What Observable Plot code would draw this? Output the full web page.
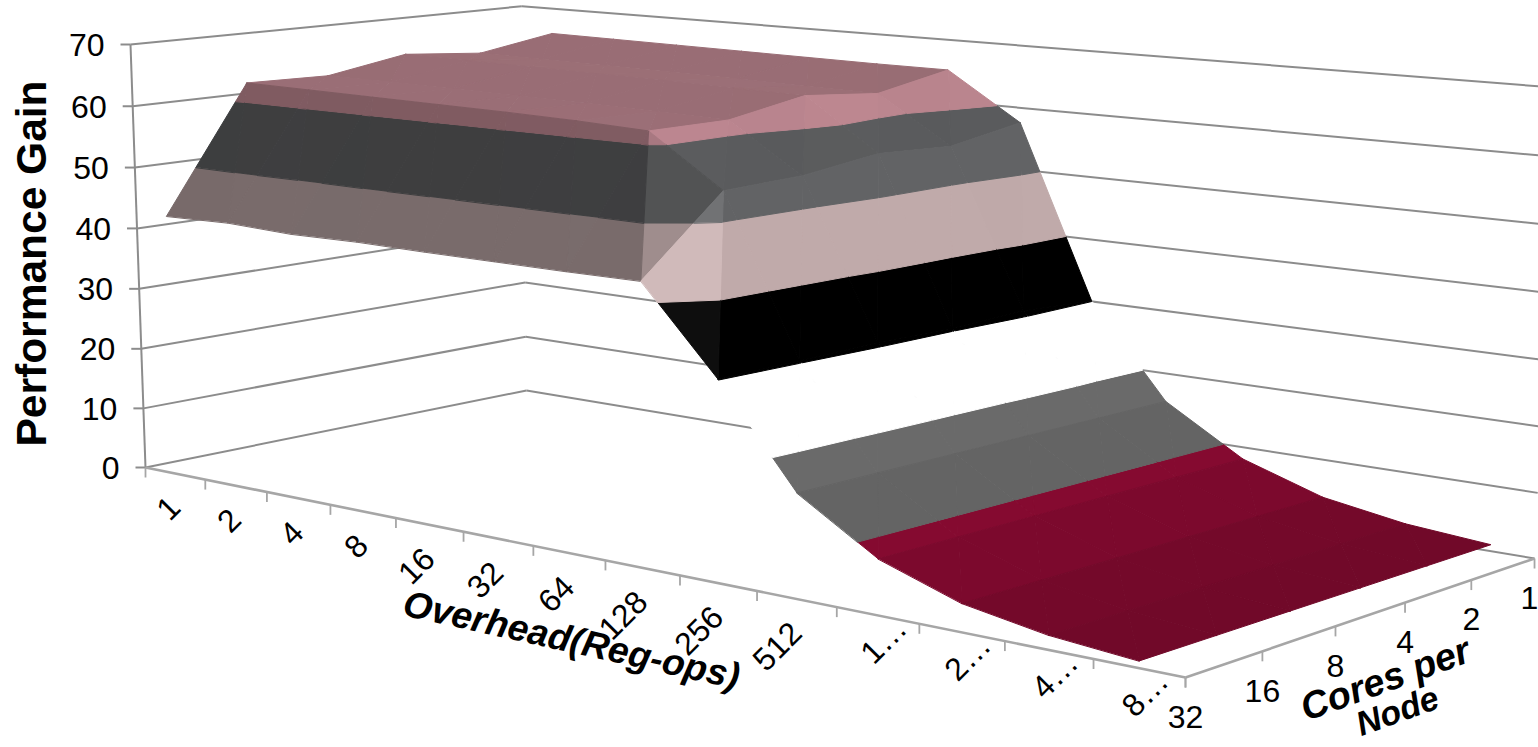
<!DOCTYPE html>
<html>
<head>
<meta charset="utf-8">
<title>Performance Gain surface</title>
<script src="https://cdn.jsdelivr.net/npm/d3@7"></script>
<script src="https://cdn.jsdelivr.net/npm/@observablehq/plot@0.6"></script>
<style>
  html, body { margin: 0; padding: 0; background: #fff; }
  svg { display: block; }
</style>
</head>
<body>
<div id="chart"></div>
<script>
// Categories
const overheadLabels = ["1","2","4","8","16","32","64","128","256","512","1…","2…","4…","8…"];
const coresLabels = ["32","16","8","4","2","1"];
const gainTicks = [0,10,20,30,40,50,60,70];

// Performance gain by overhead, one series per core count
const gainCores32 = [42.7,43.0,42.6,42.8,42.7,42.7,42.7,42.8,30.1,15.5,8.15,4.1,2.05,1.0];
const gainCores16 = [62.8,62.7,62.6,62.5,62.4,62.2,61.8,54.1,30.3,15.5,8.15,4.1,2.05,1.0];
const gainCores8  = [62.5,62.5,62.4,62.3,62.2,62.0,61.8,54.5,30.6,15.5,8.15,4.1,2.05,1.0];
const gainCores4  = [64.7,64.6,64.5,64.4,64.3,64.1,64.0,56.1,30.4,15.5,8.15,4.1,2.05,1.0];
const gainCores2  = [63.5,63.4,63.3,63.2,63.1,62.9,62.8,55.5,30.8,15.5,8.15,4.1,2.05,1.0];
const gainCores1  = [65.6,65.5,65.4,65.3,65.2,65.1,65.1,57.6,30.1,15.5,8.15,4.1,2.05,1.0];
const gainSeries = [gainCores32, gainCores16, gainCores8, gainCores4, gainCores2, gainCores1];

// One colour per 10-unit gain band, lowest first; null leaves a band unshaded white
const bandEdges = [0,10,20,30,40,50,60,70];
const bandColors = [[144,11,52],[108,108,108],null,[0,0,0],[192,170,170],[98,99,101],[203,145,155]];

const width = 1538, height = 747;
const nU = overheadLabels.length, nV = coresLabels.length;

// Perspective camera: u runs along overhead, v along cores, t is gain / 70
function project(u, v, gain) {
  const t = gain / 70;
  const X = 145 + 794.7 * u + 435.4 * v - 18.25 * t;
  const Y = 467 + 69.9 * u - 36.7 * v - 424.1 * t;
  const W = 1 - 0.207 * u + 0.1034 * v - 0.025 * t;
  return [X / W, Y / W];
}
const uOf = (i) => (i + 0.5) / nU;   // overhead categories sit between ticks
const vOf = (j) => j / (nV - 1);     // core counts sit on ticks

// Facet brightness from its slope along each axis; slight tilts barely register
function facetColor(base, su, sv) {
  if (!base) return "#ffffff";
  const softV = sv * Math.abs(sv) / (Math.abs(sv) + 5);
  const softU = su * Math.abs(su) / (Math.abs(su) + 0.5);
  const nx = -softU / 10, ny = -softV / 10 * 1.25, len = Math.hypot(nx, ny, 1);
  const a = nx / len, b = ny / len, c = 1 / len;
  const spec = Math.pow(Math.max(0, a * 0.64 - b * 0.576 + c * 0.505), 100);
  const f = 0.69 + 0.3067 * a + 0.105 * b + 0.07 * c + 0.2 * spec;
  const lift = 20 * spec;
  return d3.rgb(base[0] * f + lift, base[1] * f + lift, base[2] * f + lift).formatHex();
}

// Clip a polygon of [u, v, gain] points to one side of a gain level
function clip(poly, level, keepAbove) {
  const out = [];
  const inside = (p) => keepAbove ? p[2] >= level : p[2] <= level;
  poly.forEach((p, k) => {
    const q = poly[(k + 1) % poly.length];
    if (inside(p)) out.push(p);
    if (inside(p) !== inside(q)) {
      const s = (level - p[2]) / (q[2] - p[2]);
      out.push([p[0] + s * (q[0] - p[0]), p[1] + s * (q[1] - p[1]), level]);
    }
  });
  return out;
}

// Surface facets, far edge first, each triangle split into its gain bands
const facetRows = [];
let facetId = 0;
function addTriangle(tri, su, sv) {
  bandColors.forEach((base, b) => {
    let poly = clip(tri, bandEdges[b], true);
    if (poly.length) poly = clip(poly, bandEdges[b + 1], false);
    if (poly.length < 3) return;
    const fill = facetColor(base, su, sv);
    const id = facetId++;
    poly.forEach((p) => {
      const [x, y] = project(p[0], p[1], p[2]);
      facetRows.push({id, x, y, fill});
    });
  });
}
for (let j = nV - 2; j >= 0; j--) {
  for (let i = 0; i < nU - 1; i++) {
    const z00 = gainSeries[j][i], z10 = gainSeries[j][i + 1];
    const z01 = gainSeries[j + 1][i], z11 = gainSeries[j + 1][i + 1];
    const u0 = uOf(i), u1 = uOf(i + 1), v0 = vOf(j), v1 = vOf(j + 1);
    addTriangle([[u0, v1, z01], [u1, v1, z11], [u1, v0, z10]], z11 - z01, z11 - z10);
    addTriangle([[u0, v0, z00], [u0, v1, z01], [u1, v0, z10]], z10 - z00, z01 - z00);
  }
}

// Wall gridlines: left wall at u = 0, back wall at v = 1
const segment = (a, b) => {
  const [x1, y1] = project(...a), [x2, y2] = project(...b);
  return {x1, y1, x2, y2};
};
const wallLines = gainTicks.flatMap((g) => [
  segment([0, 0, g], [0, 1, g]),
  segment([0, 1, g], [1, 1, g])
]);
const gainAxis = [segment([0, 0, 0], [0, 0, 70])];
const floorAxes = [segment([0, 0, 0], [1, 0, 0]), segment([1, 0, 0], [1, 1, 0])];

const gainTickRows = gainTicks.map((g) => {
  const [x, y] = project(0, 0, g);
  return {x, y, label: String(g)};
});
const overheadTickRows = d3.range(nU + 1).map((i) => {
  const [x, y] = project(i / nU, 0, 0);
  return {x, y};
});
const coresTickRows = coresLabels.map((label, j) => {
  const [x, y] = project(1, vOf(j), 0);
  return {x, y, label};
});
const overheadLabelRows = overheadLabels.map((label, i) => {
  const [x, y] = project(uOf(i), 0, 0);
  return {x, y, label};
});
const fullLabels = overheadLabelRows.filter((d) => !d.label.endsWith("…"));
const cutLabels = overheadLabelRows.filter((d) => d.label.endsWith("…"));

const wallColor = "#8c8c8c", axisColor = "#a6a6a6", font = "Liberation Sans";
const downTick = {x1: "x", y1: "y", x2: "x", y2: (d) => d.y + 10, stroke: axisColor, strokeWidth: 1.8};

const chart = Plot.plot({
  width, height,
  margin: 0,
  style: {background: "#fff", fontFamily: font},
  x: {domain: [0, width], range: [0, width], axis: null},
  y: {domain: [0, height], range: [0, height], axis: null},
  color: {type: "identity"},
  marks: [
    Plot.link(wallLines, {x1: "x1", y1: "y1", x2: "x2", y2: "y2", stroke: wallColor, strokeWidth: 2}),
    Plot.link(gainAxis, {x1: "x1", y1: "y1", x2: "x2", y2: "y2", stroke: wallColor, strokeWidth: 2}),
    Plot.link(floorAxes, {x1: "x1", y1: "y1", x2: "x2", y2: "y2", stroke: axisColor, strokeWidth: 2.6}),
    Plot.link(gainTickRows, {x1: (d) => d.x - 10, y1: "y", x2: "x", y2: "y", stroke: wallColor, strokeWidth: 2}),
    Plot.link(overheadTickRows, downTick),
    Plot.link(coresTickRows, downTick),
    Plot.line(facetRows, {x: "x", y: "y", z: "id", fill: "fill", stroke: "fill", strokeWidth: 1, strokeLinejoin: "round", curve: "linear-closed"}),
    Plot.text(gainTickRows, {x: "x", y: "y", text: "label", dx: -26, dy: 1, textAnchor: "end", fontSize: 32, fill: "#000"}),
    Plot.text(fullLabels, {x: "x", y: "y", text: "label", dy: 29, rotate: -45, textAnchor: "end", fontSize: 32, fill: "#000"}),
    Plot.text(cutLabels, {x: "x", y: "y", text: "label", dx: 24, dy: 8, rotate: -45, textAnchor: "end", fontSize: 32, fill: "#000"}),
    Plot.text(coresTickRows, {x: (d) => Math.min(d.x, 1529), y: "y", text: "label", dy: 40, fontSize: 32, fill: "#000"}),
    Plot.text(["Performance Gain"], {x: () => 32, y: () => 263, text: (d) => d, rotate: -90, fontSize: 42.5, fontWeight: "bold", fill: "#000"}),
    Plot.text(["Overhead(Reg-ops)"], {x: () => 571, y: () => 640, text: (d) => d, rotate: 12.5, fontSize: 37, fontWeight: "bold", fontStyle: "italic", fill: "#000"}),
    Plot.text(["Cores per"], {x: () => 1385, y: () => 679, text: (d) => d, rotate: -20, fontSize: 38, fontWeight: "bold", fontStyle: "italic", fill: "#000"}),
    Plot.text(["Node"], {x: () => 1397, y: () => 711, text: (d) => d, rotate: -20, fontSize: 34, fontWeight: "bold", fontStyle: "italic", fill: "#000"})
  ]
});
document.getElementById("chart").appendChild(chart);
</script>
</body>
</html>
